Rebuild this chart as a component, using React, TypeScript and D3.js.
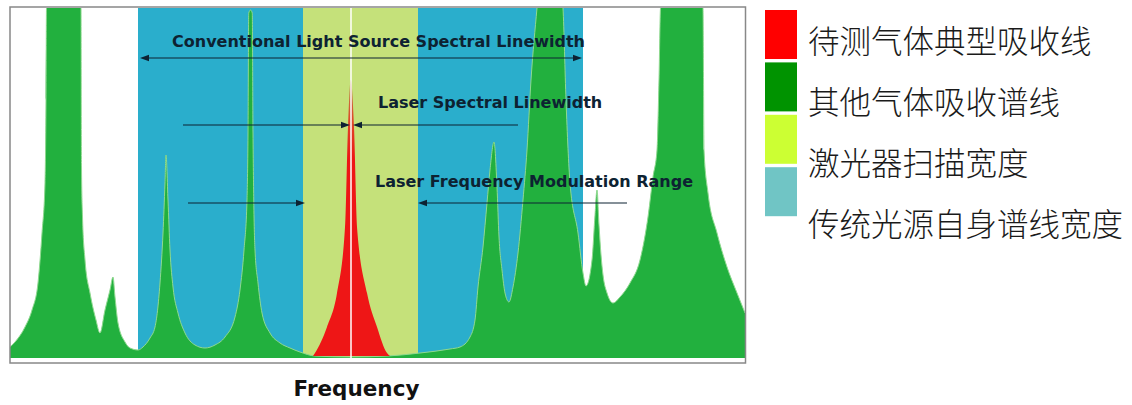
import React from 'react';
import * as d3 from 'd3';

const W = 1132;
const H = 405;
const plot = { left: 10, right: 745, top: 8, bottom: 358 };

// frequency (arbitrary units) / relative absorption
const otherGasFreq = [
  0, 1, 3, 4.4, 5.6, 6.4, 7, 7.2, 7.3, 10.6, 14.2, 14.3, 14.5, 15, 16, 17.2, 18,
  19, 20, 20.6, 21, 21.6, 23, 24, 25.6, 26.6, 28, 29, 30, 30.6, 31, 31.2, 31.6, 32,
  32.6, 33.6, 35, 37, 39, 41, 43, 45, 46, 46.8, 47.4, 47.6, 47.75, 48.1, 48.45, 48.6,
  48.75, 49, 49.6, 50.4, 52, 54, 56, 58, 61, 68, 75.6, 82, 88, 90, 92, 93, 93.6, 94.6,
  95.4, 96, 96.8, 97.4, 97.8, 98.4, 99, 99.8, 100.6, 101.6, 102.6, 103.4, 104.2,
  105.4, 108, 110.6, 111.2, 112, 113.6, 114.6, 115.2, 116.4, 117, 117.4, 117.8,
  118.2, 118.6, 119.4, 120.6, 122, 124, 126, 127.6, 128.6, 129.4, 129.8, 130.1,
  134.2, 138.6, 138.8, 139.6, 141.4, 143.4, 145.4, 147,
];
const otherGasAbs = [
  2.2, 3.2, 6.2, 9.6, 15, 25, 35, 51.6, 70, 95, 70, 38.2, 28.2, 19.6, 13, 7.6, 5,
  9.6, 13.6, 16.2, 12.2, 7, 3.2, 2, 1.6, 2.2, 4, 6.2, 15, 25, 35, 40.6, 31.6, 21.6,
  14.2, 9, 5, 2.6, 2, 2.6, 4.2, 8.2, 13.6, 21.6, 31.6, 45, 69, 69.6, 69, 45,
  31.6, 21.6, 15, 9, 5, 3, 2, 1.2, 0.4, 0.2, 0.4, 1, 1.8, 2.2, 4.2, 7.6, 14.2, 22.2,
  31, 37.6, 43.2, 34.2, 24.2, 17.6, 13, 11.2, 14.2, 21, 31.6, 41.6, 55.6,
  70, 95, 70, 51.6, 35, 25, 17, 14.4, 19.6, 28.6, 33.6, 26.6,
  20.6, 16.6, 13, 11, 12.2, 15, 19.6, 28.2, 36.2, 41.6, 55.6, 70,
  95, 70, 41.6, 33, 25, 18.2, 13, 9,
];

const targetGasFreq = [60.6, 61, 63.4, 65.4, 67, 67.6, 68.14, 68.8, 69.4, 71.4, 73.4, 75.4, 76];
const targetGasAbs = [0.4, 1, 6.2, 13, 26.2, 46.2, 55.6, 46.2, 26.2, 13, 6.2, 1, 0.4];

const sourceBand = [25.6, 114.6];
const laserBand = [58.6, 81.6];
const targetCenter = 68.2;

const arrowLabels = [
  'Conventional Light Source Spectral Linewidth',
  'Laser Spectral Linewidth',
  'Laser Frequency Modulation Range',
];
const arrowLevel = [60, 46.6, 31];
const labelFreq = [32.4, 73.6, 73];
const labelLevel = [62.2, 50, 34.2];
// each segment: row, start, arrow tip
const segRow = [0, 0, 1, 1, 2, 2];
const segFrom = [70, 70, 34.6, 101.6, 35.6, 123.4];
const segTo = [26, 114.4, 68, 68.6, 59, 81.6];

const legendLabels = ['待测气体典型吸收线', '其他气体吸收谱线', '激光器扫描宽度', '传统光源自身谱线宽度'];
const legendColors = ['#ff0000', '#009300', '#ccff33', '#70c5c5'];

export default function App() {
  const x = d3.scaleLinear().domain([0, 147]).range([plot.left, plot.right]);
  const y = d3.scaleLinear().domain([0, 70]).range([plot.bottom, plot.top]);

  const other = otherGasFreq.map((f, i) => [f, otherGasAbs[i]] as [number, number]);
  const target = targetGasFreq.map((f, i) => [f, targetGasAbs[i]] as [number, number]);

  const area = d3.area<[number, number]>()
    .x(d => x(d[0]))
    .y0(y(0))
    .y1(d => y(d[1]))
    .curve(d3.curveMonotoneX);
  const line = d3.line<[number, number]>()
    .x(d => x(d[0]))
    .y(d => y(d[1]))
    .curve(d3.curveMonotoneX);
  const redArea = d3.area<[number, number]>()
    .x(d => x(d[0]))
    .y0(y(0.4))
    .y1(d => y(d[1]))
    .curve(d3.curveMonotoneX);

  const head = (tx: number, ty: number, s: number) =>
    `M${tx},${ty}L${tx - s * 9},${ty - 3.2}L${tx - s * 9},${ty + 3.2}Z`;

  const ink = '#0d2232';

  return (
    <svg width={W} height={H} style={{ position: 'absolute', left: 0, top: 0, background: '#fff' }}>
      <defs>
        <clipPath id="plotclip">
          <rect x={plot.left} y={plot.top} width={plot.right - plot.left} height={plot.bottom - plot.top} />
        </clipPath>
        <linearGradient id="redfade" gradientUnits="userSpaceOnUse" x1="0" y1={y(55.6)} x2="0" y2={y(40)}>
          <stop offset="0" stopColor="#b9894a" />
          <stop offset="0.5" stopColor="#dd4a2a" />
          <stop offset="1" stopColor="#ee1616" />
        </linearGradient>
      </defs>

      <g clipPath="url(#plotclip)">
        <rect x={x(sourceBand[0])} y={plot.top} width={x(sourceBand[1]) - x(sourceBand[0])}
          height={plot.bottom - plot.top} fill="#2aaecc" />
        <rect x={x(laserBand[0])} y={plot.top} width={x(laserBand[1]) - x(laserBand[0])}
          height={plot.bottom - plot.top} fill="#c5e17a" />
        <path d={area(other) || ''} fill="#22b03e" />
        <path d={line(other) || ''} fill="none" stroke="#8fd98f" strokeWidth={1} />
        <path d={redArea(target) || ''} fill="url(#redfade)" />
        <line x1={x(targetCenter)} x2={x(targetCenter)} y1={plot.top} y2={plot.bottom}
          stroke="#fff" strokeOpacity={0.75} strokeWidth={2} />
      </g>

      <g>
        {segRow.map((r, i) => {
          const yy = y(arrowLevel[r]);
          const s = segTo[i] > segFrom[i] ? 1 : -1;
          return (
            <g key={i}>
              <line x1={x(segFrom[i])} x2={x(segTo[i]) - s * 4} y1={yy} y2={yy} stroke={ink} strokeWidth={1.2} />
              <path d={head(x(segTo[i]), yy, s)} fill={ink} />
            </g>
          );
        })}
        {arrowLabels.map((t, i) => (
          <text key={t} x={x(labelFreq[i])} y={y(labelLevel[i])} fill={ink}
            fontFamily="'DejaVu Sans', sans-serif" fontWeight="bold" fontSize={16}>{t}</text>
        ))}
      </g>

      <rect x={plot.left} y={plot.top - 1} width={plot.right - plot.left + 0.5} height={plot.bottom - plot.top + 6}
        fill="none" stroke="#888" strokeWidth={1.5} />

      <text x={356.5} y={396} textAnchor="middle" fill="#111"
        fontFamily="'DejaVu Sans', sans-serif" fontWeight="bold" fontSize={21.5}>Frequency</text>

      <g>
        {legendLabels.map((t, i) => (
          <g key={t}>
            <rect x={765} y={10 + i * 52.4} width={32} height={49} fill={legendColors[i]} />
            <text x={808} y={38.5 + i * 61.3} dominantBaseline="central" fill="#1a1a1a"
              fontFamily="'Noto Sans CJK SC', sans-serif" fontWeight={300} fontSize={31.5}>{t}</text>
          </g>
        ))}
      </g>
    </svg>
  );
}
